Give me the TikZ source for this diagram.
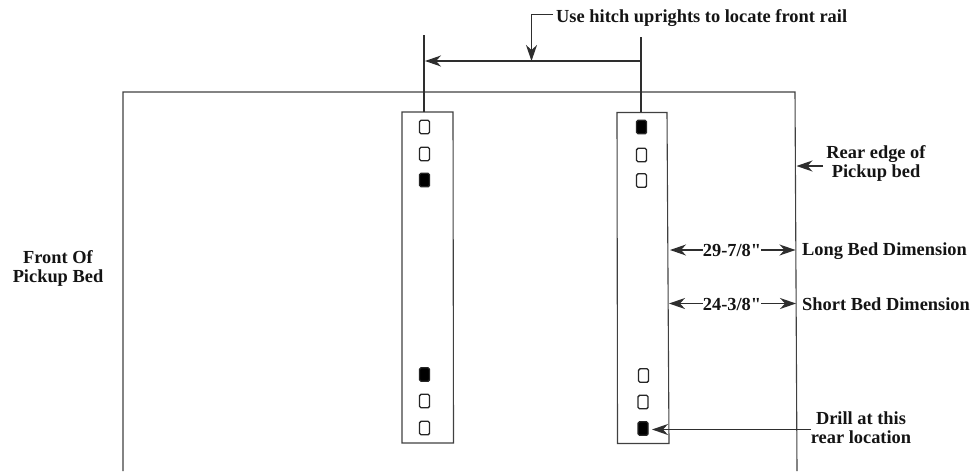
\documentclass[tikz,border=0pt]{standalone}
\usepackage{fontspec}
\newfontfamily\lblfont{Liberation Serif}
\usetikzlibrary{arrows.meta}
\tikzset{
  x=1pt,y=-1pt,
  ink/.style={draw=black!82,line width=1.3pt},
  hair/.style={draw=black!75,line width=1.1pt},
  arr/.style={ink,-{Stealth[length=16pt,width=11pt,inset=5pt]}},
  lbl/.style={inner sep=0pt,font=\lblfont\fontsize{18.4}{19}\selectfont\bfseries,text=black!92,align=center},
  openhole/.style={draw=black!85,line width=1.4pt,fill=white,rounded corners=1.5pt,minimum width=10pt,minimum height=13.5pt,inner sep=0pt},
  fullhole/.style={openhole,fill=black},
}
\begin{document}
\begin{tikzpicture}
\useasboundingbox (0,0) rectangle (976,471);
% pickup bed
\coordinate (bedBL) at (123,471);
\coordinate (bedTL) at (123,92);
\coordinate (bedTR) at (795,92);
\coordinate (bedBR) at (797,471);
\draw[hair] (bedBL) -- (bedTL) -- (bedTR) -- (bedBR);
% strips
\coordinate (lA) at (402,112); \coordinate (lB) at (453,112);
\coordinate (lC) at (453.5,443); \coordinate (lD) at (402,443);
\coordinate (rA) at (617,112.5); \coordinate (rB) at (667,112.5);
\coordinate (rC) at (669,443.5); \coordinate (rD) at (617.5,443.5);
\draw[hair] (lA) -- (lB) -- (lC) -- (lD) -- cycle;
\draw[hair] (rA) -- (rB) -- (rC) -- (rD) -- cycle;
% holes
\node[openhole] (l1) at (424.5,127) {};
\node[openhole] (l2) at (424.5,154) {};
\node[fullhole] (l3) at (424.5,180) {};
\node[fullhole] (l4) at (424.5,374.5) {};
\node[openhole] (l5) at (424.5,401) {};
\node[openhole] (l6) at (424.5,428) {};
\node[fullhole] (r1) at (641.5,127) {};
\node[openhole] (r2) at (641.5,155) {};
\node[openhole] (r3) at (641.5,180.5) {};
\node[openhole] (r4) at (643.5,375.5) {};
\node[openhole] (r5) at (643,402) {};
\node[fullhole] (r6) at (643,428.5) {};
% uprights
\coordinate (upL) at (424,35); \coordinate (upLb) at (424,112);
\coordinate (upR) at (641,37); \coordinate (upRb) at (641,112);
\draw[ink] (upL) -- (upLb);
\draw[ink] (upR) -- (upRb);
\coordinate (spanR) at (641,61); \coordinate (spanL) at (425,61);
\draw[arr] (spanR) -- (spanL);
% labels
\node[lbl,anchor=west] (hitch) at (556,18) {Use hitch uprights to locate front rail};
\coordinate (hitchS) at (553,14.5);
\coordinate (elbow) at (531.5,14.5);
\coordinate (hitchTip) at (531.5,61);
\draw[arr] (hitchS) -- (elbow) -- (hitchTip);
\node[lbl] (front) at (58,268.5) {Front Of\\Pickup Bed};
\node[lbl] (rear) at (876,163.5) {Rear edge of\\Pickup bed};
\coordinate (rearS) at (823,166);
\coordinate (rearTip) at (796.5,166);
\draw[arr] (rearS) -- (rearTip);
% dimensions
\node[lbl] (d1) at (732,250) {29-7/8"};
\node[lbl,anchor=west] (long) at (802,251) {Long Bed Dimension};
\coordinate (d1L) at (670,250); \coordinate (d1R) at (795.5,250);
\draw[arr] (d1.west) -- (d1L);
\draw[arr] (d1.east) -- (d1R);
\node[lbl] (d2) at (732,304) {24-3/8"};
\node[lbl,anchor=west] (short) at (802,304) {Short Bed Dimension};
\coordinate (d2L) at (669,303.5); \coordinate (d2R) at (796,303.5);
\draw[arr] (d2.west |- d2L) -- (d2L);
\draw[arr] (d2.east |- d2R) -- (d2R);
% drill
\node[lbl] (drill) at (861,428) {Drill at this\\rear location};
\coordinate (drillS) at (811,429.5);
\coordinate (drillTip) at (652,429.5);
\draw[arr] (drillS) -- (drillTip);
\end{tikzpicture}
\end{document}
